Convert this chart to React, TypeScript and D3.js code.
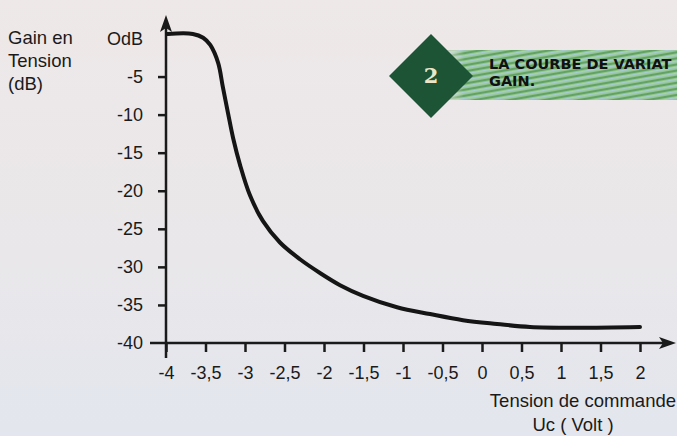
import React, { useEffect, useRef } from 'react'
import * as d3 from 'd3'

// control voltage Uc (V) and voltage gain (dB)
const ucValues = [-3.98, -3.66, -3.53, -3.44, -3.34, -3.28, -3.215, -3.15, -3.063, -2.937, -2.772, -2.557, -2.304, -2.051, -1.797, -1.506, -1.076, -0.658, -0.241, 0.19, 0.608, 1.2, 2.0]
const gainValues = [0.6, 0.6, 0.1, -0.85, -3.2, -6.4, -9.8, -13.1, -16.6, -20.6, -24.0, -26.8, -29.0, -30.8, -32.4, -33.8, -35.3, -36.2, -37.0, -37.5, -37.9, -38.0, -37.9]

const xTicks = [-4, -3.5, -3, -2.5, -2, -1.5, -1, -0.5, 0, 0.5, 1, 1.5, 2]
const yTicks = [0, -5, -10, -15, -20, -25, -30, -35, -40]

const yTitle = ['Gain en', 'Tension', '(dB)']
const xTitle = ['Tension de commande', 'Uc ( Volt )']
const badgeNumber = '2'
const badgeTitle = ['LA COURBE DE VARIAT', 'GAIN.']

const width = 677
const height = 436
const FONT = "'Liberation Sans', Arial, sans-serif"

export default function App() {
    const svgRef = useRef<SVGSVGElement | null>(null)

    useEffect(() => {
        const svg = d3.select(svgRef.current)
        svg.selectAll('*').remove()

        const x = d3.scaleLinear().domain([-4, 2]).range([166, 640])
        const y = d3.scaleLinear().domain([-40, 0]).range([343, 38.5])

        const defs = svg.append('defs')

        // paper background
        const bg = defs.append('linearGradient').attr('id', 'paper').attr('x1', 0).attr('y1', 0).attr('x2', 0).attr('y2', 1)
        bg.append('stop').attr('offset', '0%').attr('stop-color', '#eee8e8')
        bg.append('stop').attr('offset', '60%').attr('stop-color', '#e9e7ea')
        bg.append('stop').attr('offset', '100%').attr('stop-color', '#e3e6ee')
        svg.append('rect').attr('width', width).attr('height', height).attr('fill', 'url(#paper)')

        // striped banner pattern
        const pat = defs
            .append('pattern')
            .attr('id', 'stripes')
            .attr('patternUnits', 'userSpaceOnUse')
            .attr('width', 6)
            .attr('height', 6)
            .attr('patternTransform', 'rotate(-10)')
        pat.append('rect').attr('width', 6).attr('height', 6).attr('fill', '#93c68a')
        pat.append('rect').attr('y', 0).attr('width', 6).attr('height', 2).attr('fill', '#62a266')
        pat.append('rect').attr('y', 3).attr('width', 6).attr('height', 1.5).attr('fill', '#a7ccd2')

        const fade = defs.append('linearGradient').attr('id', 'fade').attr('x1', 0).attr('x2', 1)
        fade.append('stop').attr('offset', '0%').attr('stop-color', 'white').attr('stop-opacity', 0)
        fade.append('stop').attr('offset', '10%').attr('stop-color', 'white').attr('stop-opacity', 1)
        const mask = defs.append('mask').attr('id', 'bannerMask')
        mask.append('rect').attr('x', 440).attr('y', 50).attr('width', 240).attr('height', 50).attr('fill', 'url(#fade)')

        svg.append('rect')
            .attr('x', 440)
            .attr('y', 50)
            .attr('width', 240)
            .attr('height', 50)
            .attr('fill', 'url(#stripes)')
            .attr('mask', 'url(#bannerMask)')

        // diamond badge
        const cx = 431
        const cy = 76
        svg.append('path')
            .attr('d', `M${cx},${cy - 42}L${cx + 42},${cy}L${cx},${cy + 42}L${cx - 42},${cy}Z`)
            .attr('fill', '#1e5436')
        svg.append('text')
            .attr('x', cx)
            .attr('y', cy + 7)
            .attr('text-anchor', 'middle')
            .attr('font-family', "'DejaVu Serif', serif")
            .attr('font-weight', 'bold')
            .attr('font-size', 21)
            .attr('fill', '#ece6c8')
            .text(badgeNumber)

        svg.append('g')
            .selectAll('text')
            .data(badgeTitle)
            .join('text')
            .attr('x', 489)
            .attr('y', (_, i) => 69 + i * 17)
            .attr('font-family', "'DejaVu Sans', sans-serif")
            .attr('font-weight', 'bold')
            .attr('font-size', 14.5)
            .attr('fill', '#111')
            .text((d) => d)

        const ink = '#1a1a1a'

        // Y axis ticks and labels
        const yAxis = svg
            .append('g')
            .attr('transform', `translate(${x(-4)},0)`)
            .call(
                d3
                    .axisLeft(y)
                    .tickValues(yTicks)
                    .tickSize(8)
                    .tickPadding(15)
                    .tickFormat((d) => (d === 0 ? 'OdB' : String(d)))
            )
        yAxis.select('.domain').remove()
        yAxis.selectAll('.tick line')
            .attr('stroke', ink)
            .attr('stroke-width', 2.5)
            .filter((d) => d === 0 || d === -40)
            .remove()
        yAxis.selectAll('text').attr('font-family', FONT).attr('font-size', 18).attr('fill', ink)

        // X axis ticks and labels
        const xAxis = svg
            .append('g')
            .attr('transform', `translate(0,${y(-40)})`)
            .call(
                d3
                    .axisBottom(x)
                    .tickValues(xTicks)
                    .tickSize(9)
                    .tickPadding(14)
                    .tickFormat((d) => String(d).replace('.', ','))
            )
        xAxis.select('.domain').remove()
        xAxis.selectAll('.tick line').attr('stroke', ink).attr('stroke-width', 2.5)
        xAxis.selectAll('text').attr('font-family', FONT).attr('font-size', 18).attr('fill', ink)

        // axis lines with arrow heads
        svg.append('line')
            .attr('x1', x(-4))
            .attr('x2', x(-4))
            .attr('y1', 358)
            .attr('y2', 26)
            .attr('stroke', ink)
            .attr('stroke-width', 2.5)
        svg.append('path')
            .attr('d', `M${x(-4)},15L${x(-4) + 6},32L${x(-4)},28L${x(-4) - 6},32Z`)
            .attr('fill', ink)
        svg.append('line')
            .attr('x1', 150)
            .attr('x2', 666)
            .attr('y1', y(-40))
            .attr('y2', y(-40))
            .attr('stroke', ink)
            .attr('stroke-width', 2.5)
        svg.append('path')
            .attr('d', `M676,${y(-40)}L659,${y(-40) - 6}L663,${y(-40)}L659,${y(-40) + 6}Z`)
            .attr('fill', ink)

        // gain curve
        const data = ucValues.map((u, i) => ({ u, g: gainValues[i] }))
        svg.append('path')
            .datum(data)
            .attr('fill', 'none')
            .attr('stroke', '#151515')
            .attr('stroke-width', 4)
            .attr('stroke-linecap', 'round')
            .attr(
                'd',
                d3
                    .line<{ u: number; g: number }>()
                    .x((d) => x(d.u))
                    .y((d) => y(d.g))
                    .curve(d3.curveCatmullRom.alpha(0.5))
            )

        // titles
        svg.append('g')
            .selectAll('text')
            .data(yTitle)
            .join('text')
            .attr('x', 8)
            .attr('y', (_, i) => 44 + i * 23)
            .attr('font-family', FONT)
            .attr('font-size', 18.5)
            .attr('fill', ink)
            .text((d) => d)

        svg.append('text')
            .attr('x', 676)
            .attr('y', 407)
            .attr('text-anchor', 'end')
            .attr('font-family', FONT)
            .attr('font-size', 18.5)
            .attr('fill', ink)
            .text(xTitle[0])
        svg.append('text')
            .attr('x', 573)
            .attr('y', 431)
            .attr('text-anchor', 'middle')
            .attr('font-family', FONT)
            .attr('font-size', 18.5)
            .attr('fill', ink)
            .text(xTitle[1])
    }, [])

    return (
        <svg
            ref={svgRef}
            width={width}
            height={height}
            style={{ position: 'absolute', left: 0, top: 0, display: 'block' }}
        />
    )
}
